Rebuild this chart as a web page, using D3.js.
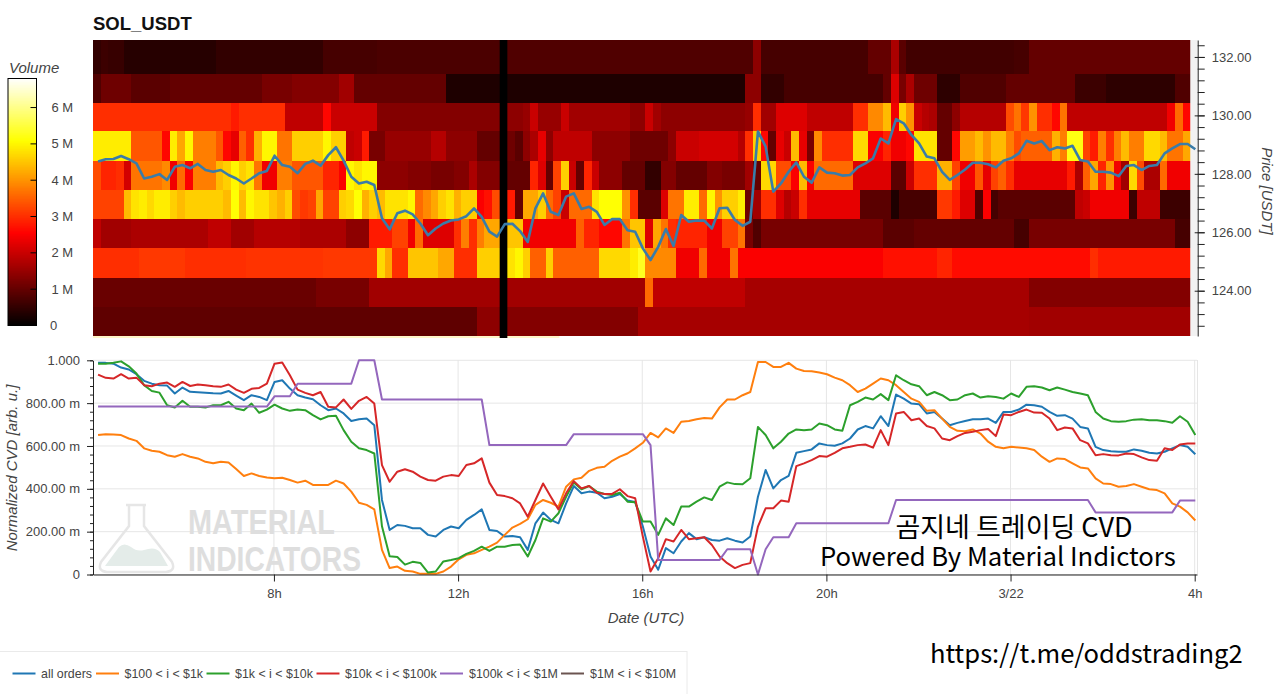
<!DOCTYPE html>
<html>
<head>
<meta charset="utf-8">
<title>SOL_USDT</title>
<script src="https://cdnjs.cloudflare.com/ajax/libs/d3/7.8.5/d3.min.js"></script>
<style>
  html, body { margin: 0; padding: 0; background: #fff; }
  svg { display: block; font-family: "Liberation Sans", Arial, sans-serif; }
  .axis text { fill: #444; font-size: 13px; font-family: "Liberation Sans", Arial, sans-serif; }
  .axis path, .axis line { stroke: #222; }
</style>
</head>
<body>
<svg id="chart"></svg>
<script>
const width = 1280
const height = 694

// heatmap columns are 10 minutes long, first one starts at 4.07h
const heatStartHour = 4.07
const columnCount = 143
const missingColumn = 53

// price bin edges, top to bottom
const priceEdges = [132.58, 131.43, 130.44, 129.45, 128.45, 127.45, 126.45, 125.45, 124.45, 123.45, 122.45]

// volume per price bin in millions, as [end column, volume] runs
const volumeBin132 = [[1,.5],[2,.6],[4,.55],[16,.38],[30,.5],[37,.7],[53,.75],[54,0],[86,.8],[87,1.4],[101,.7],[104,1.0],[105,1.7],[106,.9],[120,.65],[122,.7],[143,1.0]]
const volumeBin131 = [[1,.8],[5,1.1],[10,.9],[22,1.0],[26,1.2],[32,1.3],[34,1.6],[46,1.0],[85,.3],[87,1.4],[90,.5],[103,.7],[104,1.0],[105,2.2],[106,1.2],[107,1.7],[110,1.1],[113,.45],[119,.8],[128,1.0],[132,.6],[141,.45],[143,.8]]
const volumeBin130 = [[18,3.0],[19,2.8],[25,3.0],[30,1.9],[31,2.6],[37,2.0],[53,1.3],[56,1.4],[57,1.5],[58,2.0],[61,1.5],[62,2.0],[70,1.6],[72,1.4],[73,2.0],[74,1.6],[85,1.4],[86,1.5],[87,3.0],[89,1.6],[93,2.2],[99,1.9],[101,3.0],[103,3.9],[104,4.4],[105,2.4],[106,4.6],[107,4.0],[108,2.0],[109,1.8],[110,1.7],[112,1.0],[113,1.4],[119,1.8],[120,3.3],[121,3.7],[122,3.1],[123,4.0],[125,3.0],[126,2.6],[127,3.7],[140,1.9],[141,2.4],[142,3.6],[143,2.6]]
const volumeBin129 = [[5,4.9],[9,3.4],[10,2.6],[11,4.9],[12,4.2],[13,5.0],[16,3.8],[17,3.4],[18,2.6],[19,2.3],[20,3.5],[21,3.0],[22,4.3],[24,5.0],[26,3.7],[30,4.6],[31,5.0],[33,4.6],[34,1.9],[35,2.0],[36,2.8],[38,1.2],[44,1.5],[46,1.8],[50,1.4],[53,1.0],[55,1.1],[56,.9],[57,1.4],[58,1.7],[59,2.3],[60,1.4],[65,1.9],[70,1.4],[75,1.1],[76,1.4],[79,2.0],[84,2.1],[85,1.8],[86,3.0],[87,4.6],[88,2.6],[89,1.0],[90,2.3],[91,2.0],[92,4.4],[93,2.3],[94,1.2],[95,3.9],[99,3.0],[101,4.7],[103,2.5],[104,2.9],[106,2.4],[107,2.6],[110,4.8],[112,1.0],[113,2.6],[115,4.1],[116,4.4],[117,4.0],[119,4.4],[120,3.8],[121,3.3],[125,3.5],[126,4.3],[127,3.8],[129,5.2],[130,3.2],[131,2.8],[132,3.8],[133,3.0],[134,3.8],[135,4.4],[137,3.8],[139,4.7],[140,4.4],[142,3.7],[143,4.2]]
const volumeBin128 = [[1,3.3],[3,2.9],[4,3.0],[5,2.1],[9,3.7],[10,3.9],[11,2.4],[12,3.6],[13,2.5],[16,3.8],[17,4.4],[18,4.6],[19,5.0],[20,4.6],[21,4.8],[22,3.7],[24,2.4],[26,3.8],[30,3.4],[32,2.9],[33,2.5],[34,5.0],[35,4.8],[37,5.0],[41,1.4],[44,1.3],[47,1.2],[49,1.3],[50,1.7],[53,1.3],[57,1.0],[58,2.9],[59,2.2],[60,1.0],[61,3.2],[62,4.6],[63,2.0],[64,1.0],[65,2.9],[66,2.0],[69,1.4],[72,1.0],[74,.5],[76,1.3],[80,1.0],[82,1.3],[85,1.2],[86,1.6],[87,1.0],[89,4.7],[91,3.3],[92,2.5],[93,4.4],[94,2.5],[99,3.6],[104,2.2],[106,.9],[107,2.0],[110,3.0],[112,4.3],[113,3.2],[115,2.4],[116,3.4],[117,2.3],[118,3.2],[119,3.5],[120,3.0],[127,2.3],[128,2.8],[129,1.7],[130,3.5],[131,4.2],[132,2.9],[133,4.0],[134,2.4],[135,1.6],[136,4.7],[137,3.3],[139,1.7],[140,3.6],[143,2.4]]
const volumeBin127 = [[4,3.2],[5,4.4],[6,4.8],[7,4.9],[8,4.7],[10,4.9],[11,4.6],[12,4.4],[17,4.6],[18,4.4],[19,5.1],[20,4.4],[21,5.0],[23,4.8],[24,4.5],[25,4.3],[26,4.6],[27,3.3],[28,3.1],[29,3.2],[30,4.2],[32,3.2],[33,4.6],[34,4.7],[35,5.1],[36,4.3],[37,4.6],[38,4.4],[41,4.8],[42,5.0],[43,3.6],[44,3.9],[45,4.2],[46,4.6],[47,4.8],[48,4.3],[50,4.6],[51,2.5],[52,2.7],[53,3.3],[55,2.8],[56,1.0],[58,4.2],[59,4.6],[60,3.6],[61,3.2],[62,2.0],[65,3.6],[66,4.8],[69,5.1],[70,4.0],[71,3.0],[74,.9],[75,2.2],[77,3.7],[79,4.9],[80,3.6],[81,5.0],[82,4.0],[84,4.6],[85,4.9],[86,1.1],[87,1.6],[89,3.0],[90,2.2],[91,1.8],[92,2.0],[93,3.0],[100,2.3],[104,.9],[105,.3],[110,.7],[112,3.1],[113,2.8],[115,2.2],[116,.8],[117,2.5],[118,.7],[128,.9],[129,1.9],[130,2.0],[135,2.4],[136,.6],[139,1.9],[143,.6]]
const volumeBin126 = [[1,1.9],[5,1.6],[15,1.7],[18,1.9],[21,1.6],[27,1.8],[33,1.7],[36,1.4],[39,2.8],[41,3.2],[42,2.4],[43,3.6],[47,2.2],[48,3.0],[49,3.8],[50,3.0],[51,3.8],[53,4.2],[56,4.5],[63,2.4],[64,3.5],[66,2.9],[69,2.6],[70,3.7],[72,4.5],[73,2.2],[74,4.2],[75,3.7],[76,3.0],[80,2.9],[82,2.4],[84,3.2],[85,3.7],[86,1.2],[87,.8],[103,1.2],[107,.9],[120,1.0],[122,.7],[141,1.2],[143,.7]]
const volumeBin125 = [[6,3.0],[12,3.1],[20,3.0],[30,3.05],[37,3.1],[38,4.7],[39,4.2],[41,3.0],[45,4.5],[47,4.2],[50,3.0],[53,4.6],[55,4.8],[56,5.0],[57,4.6],[59,3.5],[60,4.6],[66,3.5],[70,4.7],[71,4.9],[72,5.3],[76,3.9],[79,2.4],[80,3.6],[83,2.4],[84,3.7],[103,2.5],[110,2.7],[112,2.9],[130,2.65],[131,3.0],[143,2.8]]
const volumeBin124 = [[29,1.05],[36,1.2],[53,1.6],[72,1.6],[73,3.6],[85,1.9],[122,1.65],[143,1.3]]
const volumeBin123 = [[50,.95],[53,1.4],[71,1.3],[122,1.65],[143,1.6]]

// line series are sampled every 10 minutes from 4.18h
const lineStartHour = 4.18
const priceLine = [128.42,128.50,128.51,128.61,128.50,128.36,127.84,127.90,127.99,127.79,128.24,128.30,128.19,128.34,128.13,128.07,128.13,127.96,127.84,127.67,127.84,128.02,128.10,128.62,128.30,128.24,128.02,128.34,128.45,128.28,128.64,128.91,128.45,127.90,127.67,127.73,127.62,126.48,126.10,126.65,126.74,126.61,126.30,125.90,126.13,126.30,126.40,126.44,126.55,126.82,126.53,126.02,125.85,
  126.28,126.29,126.04,125.67,126.82,127.33,126.70,126.59,127.22,127.33,126.80,126.87,126.70,126.25,126.45,126.45,126.07,126.02,125.45,125.05,125.50,126.11,125.53,126.59,126.36,126.40,126.40,126.13,126.82,126.84,126.42,126.22,126.36,129.45,128.93,127.39,127.67,128.07,128.39,127.90,127.70,128.22,128.04,128.02,127.94,127.96,128.22,128.36,128.53,129.21,
  129.04,129.87,129.73,129.33,129.04,128.59,128.53,128.07,127.79,127.96,128.15,128.38,128.38,128.33,128.22,128.45,128.53,128.70,129.13,129.04,129.12,128.81,128.91,128.87,128.96,128.47,128.42,128.07,128.07,128.04,127.92,128.27,128.30,128.13,128.27,128.30,128.70,128.87,129.02,129.02,128.84]

const cvdAll = [.988,.988,.984,.966,.957,.935,.904,.891,.884,.882,.845,.873,.853,.851,.849,.846,.845,.857,.835,.814,.837,.829,.814,.899,.907,.868,.837,.826,.818,.790,.767,.775,.752,.717,.725,.728,.697,.348,.208,.231,.227,.216,.216,.185,.177,
  .208,.224,.216,.255,.278,.304,.208,.203,.177,.180,.174,.115,.239,.289,.255,.239,.332,.413,.379,.387,.382,.356,.363,.376,.345,.339,.224,.084,.022,.123,.099,.154,.193,.165,.174,.161,.158,.169,.158,.149,.177,.363,.488,.402,.441,.460,.568,.576,.584,.612,
  .604,.601,.612,.635,.677,.693,.682,.739,.693,.840,.821,.798,.795,.752,.759,.728,.697,.708,.717,.725,.725,.728,.708,.759,.759,.770,.793,.790,.783,.759,.741,.744,.728,.689,.682,.596,.581,.575,.573,.573,.584,.578,.568,.565,.573,.589,.604,.596,.561]
const cvd100to1k = [.651,.655,.654,.651,.635,.624,.589,.578,.573,.557,.550,.562,.550,.542,.526,.519,.526,.523,.492,.460,.472,.460,.453,.449,.452,.441,.429,.438,.418,.418,.418,.438,.425,.387,.335,.325,.304,.115,.030,.037,.017,.014,.003,.003,.003,
  .014,.037,.071,.092,.099,.115,.130,.149,.185,.219,.236,.258,.325,.348,.335,.317,.410,.444,.452,.484,.498,.503,.531,.550,.565,.589,.615,.661,.640,.682,.661,.713,.717,.725,.731,.728,.780,.817,.817,.837,.852,.992,.992,.969,.969,.988,.961,.950,.949,.943,
  .935,.919,.907,.884,.852,.868,.891,.915,.907,.884,.852,.821,.806,.764,.767,.728,.689,.671,.669,.677,.658,.620,.596,.589,.596,.593,.589,.581,.550,.526,.542,.539,.519,.500,.495,.449,.425,.422,.410,.413,.422,.410,.398,.394,.379,.332,.317,.290,.252]
const cvd1kto10k = [.984,.984,.989,.995,.972,.938,.884,.857,.849,.790,.780,.811,.783,.783,.780,.790,.790,.806,.775,.767,.798,.755,.770,.793,.775,.764,.770,.767,.744,.724,.739,.741,.674,.620,.589,.581,.565,.225,.085,.082,.046,.059,.054,.009,.014,
  .061,.068,.076,.096,.110,.130,.110,.130,.130,.138,.140,.084,.161,.262,.247,.286,.363,.430,.398,.413,.387,.376,.371,.382,.340,.337,.247,.247,.185,.262,.231,.317,.317,.340,.360,.348,.410,.430,.422,.421,.449,.689,.651,.589,.620,.658,.677,.674,.677,.705,
  .697,.677,.671,.790,.806,.826,.817,.842,.814,.930,.907,.888,.879,.837,.852,.837,.814,.817,.837,.845,.826,.832,.829,.821,.845,.829,.876,.879,.873,.860,.873,.863,.852,.845,.837,.759,.728,.716,.713,.716,.723,.725,.720,.720,.716,.708,.739,.713,.651]
const cvd10kto100k = [.933,.918,.915,.935,.915,.919,.884,.879,.891,.896,.876,.899,.880,.887,.884,.879,.876,.887,.863,.848,.867,.871,.891,.984,.990,.930,.863,.848,.837,.852,.783,.780,.817,.773,.811,.829,.798,.511,.433,.480,.491,.480,.457,.441,.438,
  .457,.464,.460,.511,.519,.542,.429,.371,.366,.356,.332,.270,.348,.425,.363,.304,.379,.436,.402,.413,.382,.376,.376,.398,.366,.356,.177,.014,.076,.165,.154,.208,.165,.169,.174,.138,.084,.053,.030,.045,.053,.224,.309,.309,.345,.340,.506,.519,.534,.553,
  .550,.568,.589,.596,.604,.607,.592,.674,.604,.752,.759,.720,.728,.693,.682,.635,.627,.646,.661,.666,.674,.679,.646,.747,.744,.759,.770,.756,.755,.728,.674,.686,.682,.627,.612,.557,.562,.557,.556,.565,.562,.547,.534,.531,.589,.581,.607,.612,.612]
const cvd100kto1M = [.784,.784,.784,.784,.784,.784,.784,.784,.784,.784,.784,.784,.784,.784,.784,.784,.784,.784,.784,.784,.784,.784,.784,.832,.832,.832,.891,.891,.891,.891,.891,.891,.891,.891,1,1,1,.817,.817,.817,.817,.817,.817,.817,.817,.817,.817,.817,.817,.817,.817,
  .604,.604,.604,.604,.604,.604,.604,.604,.604,.604,.604,.655,.655,.655,.655,.655,.655,.655,.655,.655,.655,.604,.068,.068,.068,.068,.068,.068,.068,.068,.068,.118,.118,.118,.118,0,.118,.174,.174,.174,.239,.239,.239,.239,.239,.239,.239,.239,.239,.239,.239,.239,.239,
  .348,.348,.348,.348,.348,.348,.348,.348,.348,.348,.348,.348,.348,.348,.348,.348,.348,.348,.348,.348,.348,.348,.348,.348,.348,.348,.29,.29,.29,.29,.29,.29,.29,.29,.29,.29,.29,.345,.345,.345]
const cvd1Mto10M = []

const cvdSeries = [cvdAll, cvd100to1k, cvd1kto10k, cvd10kto100k, cvd100kto1M, cvd1Mto10M]
const seriesNames = ['all orders', '$100 < i < $1k', '$1k < i < $10k', '$10k < i < $100k', '$100k < i < $1M', '$1M < i < $10M']
const seriesColors = ['#1f77b4', '#ff7f0e', '#2ca02c', '#d62728', '#9467bd', '#6b5450']
const legendLineX = [12.5, 96, 206.5, 316.5, 440, 561]
const legendTextX = [41, 124.5, 235, 345, 469, 590]

const timeTicks = [8, 12, 16, 20, 24, 28]
const timeLabels = ['8h', '12h', '16h', '20h', '3/22', '4h']
const priceTicks = [124, 126, 128, 130, 132]
const cvdTicks = [0, .2, .4, .6, .8, 1]
const cvdLabels = ['0', '200.00 m', '400.00 m', '600.00 m', '800.00 m', '1.000']
const volumeTicks = [0, 1, 2, 3, 4, 5, 6]
const volumeLabels = ['0', '1 M', '2 M', '3 M', '4 M', '5 M', '6 M']

const heat = { left: 93, right: 1197, top: 40, bottom: 336 }
const cvdPlot = { left: 93, right: 1197, top: 360, bottom: 574.5 }

const svg = d3.select('#chart').attr('width', width).attr('height', height)

const xScale = d3.scaleLinear().domain([heatStartHour, 28.05]).range([heat.left, heat.right])
const priceScale = d3.scaleLinear().domain([122.45, 132.58]).range([heat.bottom, heat.top])
const cvdScale = d3.scaleLinear().domain([0, 1]).range([cvdPlot.bottom, cvdPlot.top + .3])
const volumeScale = d3.scaleLinear().domain([0, 6.8]).range([325.5, 78.5])
const heatColor = d3.scaleLinear()
  .domain([0, 2.54, 5.08, 6.8])
  .range(['#000000', '#ff0000', '#ffff00', '#ffffff'])

const expandRuns = (runs) => {
  const values = []
  runs.forEach(([end, volume]) => {
    while (values.length < end) values.push(volume)
  })
  return values
}
const columnHour = (column) => heatStartHour + column / 6
const lineHour = (index) => lineStartHour + index / 6

const drawHeatmap = () => {
  const bins = [volumeBin132, volumeBin131, volumeBin130, volumeBin129, volumeBin128,
    volumeBin127, volumeBin126, volumeBin125, volumeBin124, volumeBin123]
  const cells = []
  bins.forEach((runs, bin) => {
    expandRuns(runs).forEach((volume, column) => {
      if (column !== missingColumn) cells.push({ bin, column, volume })
    })
  })

  // pale strip that runs under the heatmap
  svg.append('rect')
    .attr('x', xScale(heatStartHour))
    .attr('y', heat.bottom)
    .attr('width', xScale(14.2) - xScale(heatStartHour))
    .attr('height', 2)
    .attr('fill', '#fff6c8')

  svg.append('g')
    .style('filter', 'blur(0.45px)')
    .selectAll('rect')
    .data(cells)
    .enter()
    .append('rect')
    .attr('x', d => xScale(columnHour(d.column)))
    .attr('y', d => priceScale(priceEdges[d.bin]))
    .attr('width', d => xScale(columnHour(d.column + 1)) - xScale(columnHour(d.column)) + .4)
    .attr('height', d => priceScale(priceEdges[d.bin + 1]) - priceScale(priceEdges[d.bin]) + .3)
    .attr('fill', d => heatColor(d.volume))
    .attr('shape-rendering', 'crispEdges')

  // the column with no data is drawn solid black
  svg.append('rect')
    .attr('x', xScale(columnHour(missingColumn)))
    .attr('y', heat.top)
    .attr('width', xScale(columnHour(missingColumn + 1)) - xScale(columnHour(missingColumn)))
    .attr('height', heat.bottom - heat.top + 2)
    .attr('fill', '#000')

  const priceAxisX = 1197.7
  svg.append('rect')
    .attr('x', xScale(columnHour(columnCount)))
    .attr('y', heat.top)
    .attr('width', priceAxisX - xScale(columnHour(columnCount)))
    .attr('height', heat.bottom - heat.top)
    .attr('fill', '#f2f2f2')

  const line = d3.line()
    .x((d, i) => xScale(lineHour(i)))
    .y(d => priceScale(d))
  svg.append('path')
    .attr('d', line(priceLine))
    .attr('fill', 'none')
    .attr('stroke', '#3a7ca8')
    .attr('stroke-width', 2.6)
    .attr('stroke-linejoin', 'round')

  const minor = svg.append('g')
    .attr('class', 'axis')
    .attr('transform', `translate(${priceAxisX}, 0)`)
    .call(d3.axisRight(priceScale).tickValues(d3.range(122.8, 132.5, .4)).tickSize(7).tickFormat(''))
  minor.select('.domain').remove()

  const axis = svg.append('g')
    .attr('class', 'axis')
    .attr('transform', `translate(${priceAxisX}, 0)`)
    .call(d3.axisRight(priceScale).tickValues(priceTicks).tickSize(7).tickPadding(7).tickFormat(d3.format('.2f')).tickSizeOuter(0))
  axis.selectAll('.tick line').attr('x1', -3)

  svg.append('text')
    .attr('transform', 'translate(1262, 191) rotate(90)')
    .attr('text-anchor', 'middle')
    .attr('font-size', 15)
    .attr('font-style', 'italic')
    .attr('fill', '#444')
    .text('Price [USDT]')

  svg.append('text')
    .attr('x', heat.left)
    .attr('y', 30)
    .attr('font-size', 18.5)
    .attr('font-weight', 'bold')
    .attr('fill', '#111')
    .text('SOL_USDT')
}

const drawColorBar = () => {
  const steps = d3.range(0, 6.8, .02)
  svg.append('g').selectAll('rect')
    .data(steps)
    .enter()
    .append('rect')
    .attr('x', 8)
    .attr('width', 28.5)
    .attr('y', d => volumeScale(d + .02))
    .attr('height', d => volumeScale(d) - volumeScale(d + .02) + .3)
    .attr('fill', d => heatColor(d))
    .attr('shape-rendering', 'crispEdges')
  svg.append('rect')
    .attr('x', 8)
    .attr('y', 78.5)
    .attr('width', 28.5)
    .attr('height', 247)
    .attr('fill', 'none')
    .attr('stroke', '#000')
  svg.append('g').selectAll('line')
    .data(volumeTicks.slice(1))
    .enter()
    .append('line')
    .attr('x1', 30.5)
    .attr('x2', 36.5)
    .attr('y1', d => volumeScale(d))
    .attr('y2', d => volumeScale(d))
    .attr('stroke', '#000')
  svg.append('g').selectAll('text')
    .data(volumeTicks)
    .enter()
    .append('text')
    .attr('x', d => d === 0 ? 50 : 51.5)
    .attr('y', d => volumeScale(d))
    .attr('dy', '.35em')
    .attr('font-size', 13)
    .attr('fill', '#444')
    .text((d, i) => volumeLabels[i])
  svg.append('text')
    .attr('x', 9)
    .attr('y', 72.5)
    .attr('font-size', 15)
    .attr('font-style', 'italic')
    .attr('fill', '#444')
    .text('Volume')
}

const drawWatermark = () => {
  const mark = svg.append('g')
  mark.append('path')
    .attr('d', 'M126 505 L146 505 M129 505 L129 526 L101 562 Q97 571 107 572 L166 572 Q176 571 172 562 L144 526 L144 505')
    .attr('fill', 'none')
    .attr('stroke', '#e6e6e6')
    .attr('stroke-width', 2.5)
  mark.append('path')
    .attr('d', 'M105 566 L119 547 Q124 542 131 547 Q137 552 144 550 Q155 546 160 552 L168 566 Z')
    .attr('fill', '#e4ece9')
  mark.append('text')
    .attr('x', 188)
    .attr('y', 534)
    .attr('font-family', '"Liberation Sans Narrow", "Liberation Sans"')
    .attr('font-weight', 'bold')
    .attr('font-size', 35)
    .attr('textLength', 147)
    .attr('lengthAdjust', 'spacingAndGlyphs')
    .attr('fill', '#dedede')
    .text('MATERIAL')
  mark.append('text')
    .attr('x', 188)
    .attr('y', 570.5)
    .attr('font-family', '"Liberation Sans Narrow", "Liberation Sans"')
    .attr('font-weight', 'bold')
    .attr('font-size', 35)
    .attr('textLength', 173)
    .attr('lengthAdjust', 'spacingAndGlyphs')
    .attr('fill', '#dedede')
    .text('INDICATORS')
}

const drawCvd = () => {
  const grid = svg.append('g')
  grid.selectAll('.hgrid')
    .data(cvdTicks)
    .enter()
    .append('line')
    .attr('x1', cvdPlot.left)
    .attr('x2', cvdPlot.right)
    .attr('y1', d => cvdScale(d))
    .attr('y2', d => cvdScale(d))
    .attr('stroke', '#e6e6e6')
  grid.selectAll('.vgrid')
    .data(timeTicks)
    .enter()
    .append('line')
    .attr('x1', d => xScale(d))
    .attr('x2', d => xScale(d))
    .attr('y1', cvdPlot.top)
    .attr('y2', cvdPlot.bottom)
    .attr('stroke', '#e6e6e6')
  grid.append('line')
    .attr('x1', cvdPlot.right + .5)
    .attr('x2', cvdPlot.right + .5)
    .attr('y1', cvdPlot.top)
    .attr('y2', cvdPlot.bottom)
    .attr('stroke', '#e6e6e6')

  drawWatermark()

  const line = d3.line()
    .x((d, i) => xScale(lineHour(i)))
    .y(d => cvdScale(d))
  svg.append('g').selectAll('path')
    .data(cvdSeries)
    .enter()
    .append('path')
    .attr('d', d => line(d))
    .attr('fill', 'none')
    .attr('stroke', (d, i) => seriesColors[i])
    .attr('stroke-width', 2)
    .attr('stroke-linejoin', 'round')

  const minor = svg.append('g')
    .attr('class', 'axis')
    .attr('transform', `translate(${cvdPlot.left}, 0)`)
    .call(d3.axisLeft(cvdScale).tickValues(d3.range(0, 1.001, .04)).tickSize(3).tickFormat(''))
  minor.select('.domain').remove()

  svg.append('g')
    .attr('class', 'axis')
    .attr('transform', `translate(${cvdPlot.left}, 0)`)
    .call(d3.axisLeft(cvdScale).tickValues(cvdTicks).tickSize(6).tickPadding(7).tickSizeOuter(0)
      .tickFormat((d, i) => cvdLabels[i]))

  svg.append('g')
    .attr('class', 'axis')
    .attr('transform', `translate(0, ${cvdPlot.bottom})`)
    .call(d3.axisBottom(xScale).tickValues(timeTicks).tickSize(7).tickPadding(7).tickSizeOuter(0)
      .tickFormat((d, i) => timeLabels[i]))

  svg.append('text')
    .attr('transform', 'translate(17, 468) rotate(-90)')
    .attr('text-anchor', 'middle')
    .attr('font-size', 15)
    .attr('font-style', 'italic')
    .attr('fill', '#444')
    .text('Normalized CVD [arb. u.]')
  svg.append('text')
    .attr('x', 646)
    .attr('y', 623)
    .attr('text-anchor', 'middle')
    .attr('font-size', 15)
    .attr('font-style', 'italic')
    .attr('fill', '#444')
    .text('Date (UTC)')
}

const drawLegend = () => {
  svg.append('rect')
    .attr('x', -1)
    .attr('y', 651.5)
    .attr('width', 688)
    .attr('height', 44)
    .attr('fill', '#fff')
    .attr('stroke', '#eaeaea')
  const items = svg.append('g').selectAll('g')
    .data(seriesNames)
    .enter()
    .append('g')
  items.append('line')
    .attr('x1', (d, i) => legendLineX[i])
    .attr('x2', (d, i) => legendLineX[i] + 23)
    .attr('y1', 673.5)
    .attr('y2', 673.5)
    .attr('stroke', (d, i) => seriesColors[i])
    .attr('stroke-width', 2)
  items.append('text')
    .attr('x', (d, i) => legendTextX[i])
    .attr('y', 673.5)
    .attr('dy', '.35em')
    .attr('font-size', 12.4)
    .attr('fill', '#444')
    .text(d => d)
}

const drawNotes = () => {
  svg.append('text')
    .attr('x', 1014)
    .attr('y', 536.5)
    .attr('text-anchor', 'middle')
    .attr('font-family', '"Noto Sans CJK KR"')
    .attr('font-size', 27)
    .attr('fill', '#000')
    .text('곰지네 트레이딩 CVD')
  svg.append('text')
    .attr('x', 820)
    .attr('y', 566)
    .attr('font-family', '"Noto Sans CJK KR"')
    .attr('font-size', 25.7)
    .attr('fill', '#000')
    .text('Powered By Material Indictors')
  svg.append('text')
    .attr('x', 930)
    .attr('y', 663)
    .attr('font-family', '"Noto Sans CJK KR"')
    .attr('font-size', 25.6)
    .attr('fill', '#000')
    .text('https://t.me/oddstrading2')
}

drawHeatmap()
drawColorBar()
drawCvd()
drawLegend()
drawNotes()
</script>
</body>
</html>
